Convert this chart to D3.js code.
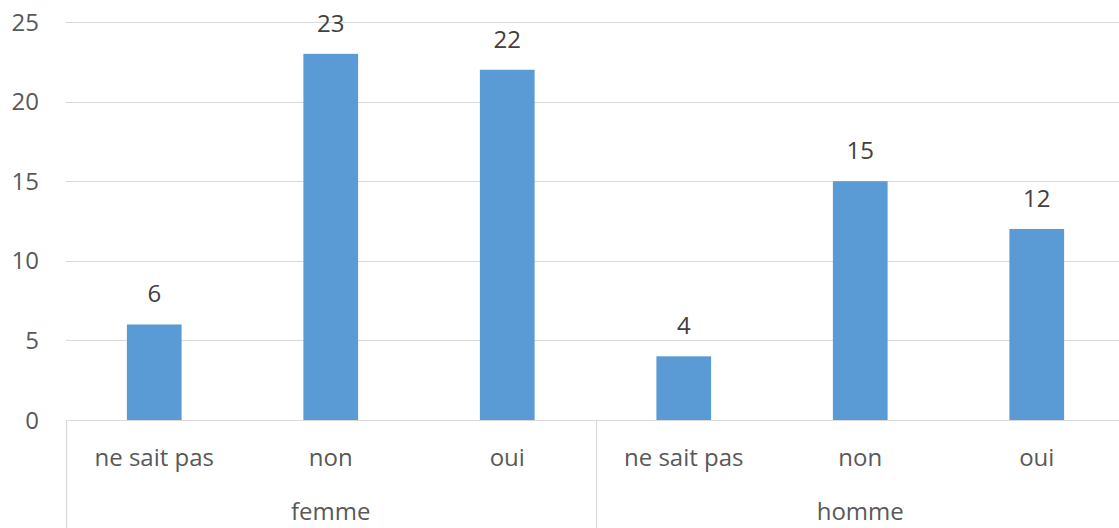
<!DOCTYPE html>
<html lang="fr">
<head>
<meta charset="UTF-8">
<script src="https://cdnjs.cloudflare.com/ajax/libs/d3/7.9.0/d3.min.js"></script>
<style>
  body { margin: 0; background: #fff; }
  svg { display: block; font-family: "Open Sans", sans-serif; }
</style>
</head>
<body>
<div id="chart"></div>
<script>
// data
const groups = ["femme", "homme"];
const answers = ["ne sait pas", "non", "oui"];
const femmeValues = [6, 23, 22];
const hommeValues = [4, 15, 12];
const yTicks = [0, 5, 10, 15, 20, 25];

const width = 1119, height = 528;
const margin = { top: 22, right: -6, bottom: 108, left: 66 };
const fs = "24px";

const rows = [];
groups.forEach((g, gi) => {
  const vals = gi === 0 ? femmeValues : hommeValues;
  answers.forEach((a, i) => rows.push({ key: g + "|" + a, group: g, answer: a, value: vals[i] }));
});

const svg = d3.select("#chart").append("svg")
  .attr("width", width)
  .attr("height", height);

const x = d3.scaleBand()
  .domain(rows.map(d => d.key))
  .range([margin.left, width - margin.right])
  .paddingInner(0.69)
  .paddingOuter(0.345);

const slot = d3.scaleBand()
  .domain(rows.map(d => d.key))
  .range([margin.left, width - margin.right]);

const y = d3.scaleLinear()
  .domain([0, 25])
  .range([height - margin.bottom, margin.top]);

// gridlines
svg.append("g")
  .selectAll("line")
  .data(yTicks.filter(t => t > 0))
  .join("line")
  .attr("x1", margin.left)
  .attr("x2", width)
  .attr("y1", d => Math.round(y(d)) + 0.5)
  .attr("y2", d => Math.round(y(d)) + 0.5)
  .attr("stroke", "#d9d9d9")
  .attr("stroke-width", 1.2);

// y tick labels
svg.append("g")
  .selectAll("text")
  .data(yTicks)
  .join("text")
  .attr("x", 39)
  .attr("y", d => y(d))
  .attr("dy", "0.36em")
  .attr("text-anchor", "end")
  .attr("fill", "#595959")
  .style("font-size", fs)
  .text(d => d);

// bars
svg.append("g")
  .selectAll("rect")
  .data(rows)
  .join("rect")
  .attr("x", d => x(d.key))
  .attr("y", d => y(d.value))
  .attr("width", x.bandwidth())
  .attr("height", d => y(0) - y(d.value))
  .attr("fill", "#5b9bd5");

// value labels
svg.append("g")
  .selectAll("text")
  .data(rows)
  .join("text")
  .attr("x", d => x(d.key) + x.bandwidth() / 2)
  .attr("y", d => y(d.value) - 22)
  .attr("text-anchor", "middle")
  .attr("fill", "#404040")
  .style("font-size", fs)
  .text(d => d.value);

// category axis
const base = Math.round(y(0)) + 0.5;
const axis = svg.append("g").attr("stroke", "#d9d9d9").attr("stroke-width", 1.2);
axis.append("line")
  .attr("x1", margin.left).attr("x2", width)
  .attr("y1", base).attr("y2", base);
const dividers = [margin.left, slot(groups[1] + "|" + answers[0])];
axis.selectAll("line.div")
  .data(dividers)
  .join("line")
  .attr("class", "div")
  .attr("x1", d => Math.round(d) + 0.5)
  .attr("x2", d => Math.round(d) + 0.5)
  .attr("y1", base)
  .attr("y2", height);

svg.append("g")
  .selectAll("text")
  .data(rows)
  .join("text")
  .attr("x", d => slot(d.key) + slot.bandwidth() / 2)
  .attr("y", 466)
  .attr("text-anchor", "middle")
  .attr("fill", "#595959")
  .style("font-size", fs)
  .text(d => d.answer);

svg.append("g")
  .selectAll("text")
  .data(groups)
  .join("text")
  .attr("x", g => {
    const first = slot(g + "|" + answers[0]);
    const last = slot(g + "|" + answers[answers.length - 1]) + slot.bandwidth();
    return (first + last) / 2;
  })
  .attr("y", 520)
  .attr("text-anchor", "middle")
  .attr("fill", "#595959")
  .style("font-size", fs)
  .text(g => g);
</script>
</body>
</html>
